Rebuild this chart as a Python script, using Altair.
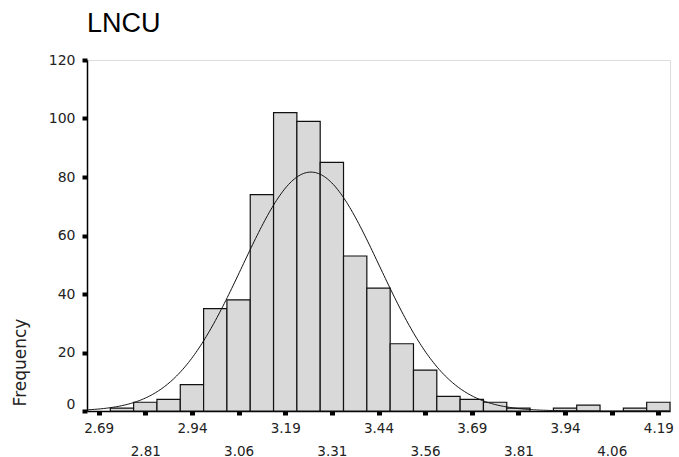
import altair as alt
import numpy as np
import pandas as pd

# Histogram of LNCU: bin midpoints and frequencies
BIN_MIDS = [2.6875, 2.75, 2.8125, 2.875, 2.9375, 3.0, 3.0625, 3.125, 3.1875,
            3.25, 3.3125, 3.375, 3.4375, 3.5, 3.5625, 3.625, 3.6875, 3.75,
            3.8125, 3.875, 3.9375, 4.0, 4.0625, 4.125, 4.1875]
COUNTS = [0, 1, 3, 4, 9, 35, 38, 74, 102, 99, 85, 53, 42, 23, 14, 5, 4, 3,
          1, 0, 1, 2, 0, 1, 3]
BIN_WIDTH = 0.0625

# Axis ticks
X_TICKS = [2.6875, 2.8125, 2.9375, 3.0625, 3.1875, 3.3125, 3.4375, 3.5625,
           3.6875, 3.8125, 3.9375, 4.0625, 4.1875]
Y_TICKS = [0, 20, 40, 60, 80, 100, 120]

mids = np.array(BIN_MIDS)
counts = np.array(COUNTS)
n_obs = counts.sum()
mean = float((mids * counts).sum() / n_obs)
sd = float(np.sqrt((counts * (mids - mean) ** 2).sum() / (n_obs - 1)))

x_lo = BIN_MIDS[0] - BIN_WIDTH / 2
x_hi = BIN_MIDS[-1] + BIN_WIDTH / 2
tick_step = X_TICKS[1] - X_TICKS[0]

bars_df = pd.DataFrame({
    "lo": mids - BIN_WIDTH / 2,
    "hi": mids + BIN_WIDTH / 2,
    "count": counts,
})

x_scale = alt.Scale(domain=[x_lo, x_hi], nice=False, zero=False)
y_scale = alt.Scale(domain=[0, 120], nice=False)

# staggered tick labels: every other label drops to a second row
label_expr = (
    f"round((datum.value - {X_TICKS[0]}) / {tick_step}) % 2 == 1"
    " ? ['', datum.label] : datum.label"
)

x_axis = alt.Axis(
    values=X_TICKS, format=".2f", labelExpr=label_expr, labelLineHeight=23,
    title=None, grid=False, tickSize=4, tickWidth=5, tickColor="black",
    domainColor="black", domainWidth=1.5, labelFont="DejaVu Sans",
    labelFontSize=13.5, labelColor="#222", labelPadding=6,
    labelBaseline="top", labelOverlap=False, labelFlush=False,
)

y_axis = alt.Axis(
    values=Y_TICKS, title="Frequency", grid=False, tickSize=5, tickWidth=4,
    tickColor="black", domainColor="black", domainWidth=1.5,
    labelFont="DejaVu Sans", labelFontSize=14, labelColor="#222",
    labelPadding=7, labelOverlap=False, labelFlush=False,
    labelBaseline=alt.condition("datum.value == 0", alt.value("bottom"),
                                alt.value("middle")),
    titleFont="DejaVu Sans", titleFontSize=17, titleFontWeight="normal",
    titleColor="#222", titleAngle=270, titleX=-67, titleY=302,
    titleAlign="center", titleBaseline="middle",
)

bars = alt.Chart(bars_df).transform_filter("datum.count > 0").mark_rect(
    fill="#d9d9d9", stroke="#111", strokeWidth=1.2
).encode(
    x=alt.X("lo:Q", scale=x_scale, axis=x_axis),
    x2="hi:Q",
    y=alt.Y("count:Q", scale=y_scale, axis=y_axis),
    y2=alt.datum(0),
)

# fitted normal curve scaled to the histogram frequencies
curve = alt.Chart(alt.sequence(x_lo, x_hi + 0.001, 0.004, as_="x")).transform_calculate(
    f=f"{n_obs * BIN_WIDTH} * densityNormal(datum.x, {mean}, {sd})"
).mark_line(color="#111", strokeWidth=1).encode(
    x=alt.X("x:Q", scale=x_scale),
    y=alt.Y("f:Q", scale=y_scale),
)

chart = alt.layer(bars, curve).properties(
    width=583,
    height=351,
    title=alt.TitleParams(
        "LNCU", anchor="start", frame="group", font="Liberation Sans",
        fontSize=27, fontWeight="normal", color="black", offset=15,
    ),
    autosize=alt.AutoSizeParams(type="none"),
    padding={"left": 87, "top": 60, "right": 9, "bottom": 46},
).configure_view(
    stroke="#444", strokeWidth=1.2
).configure(background="white")

chart.save("out.html", embed_options={"renderer": "svg", "actions": False})
